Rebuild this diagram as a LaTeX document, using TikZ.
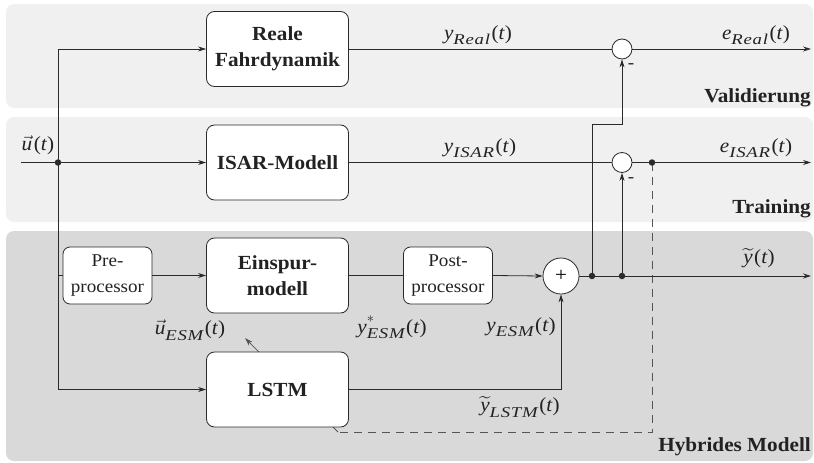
\documentclass[tikz,border=0pt]{standalone}
\usepackage{amsmath}
\usepackage{fontspec}
\setmainfont{Liberation Serif}[FakeStretch=1.06]
\newfontfamily\subfnt{Liberation Serif}[FakeStretch=1.25,LetterSpace=5]
\usetikzlibrary{arrows.meta}
\definecolor{linec}{HTML}{2A2A2A}
\definecolor{txtc}{HTML}{222222}
\definecolor{bandl}{HTML}{F0F0F0}
\definecolor{bandd}{HTML}{D9D9D9}
\definecolor{dashc}{HTML}{555555}
\newcommand{\subx}[1]{\raisebox{-0.27em}{\fontsize{15}{15}\subfnt\itshape #1}}
\newcommand{\tpar}{\kern1.5pt(\textit{t})}
\newcommand{\sigl}[2]{\textit{#1}\subx{#2}\tpar}
\pgfdeclarelayer{bands}
\pgfdeclarelayer{under}
\pgfsetlayers{bands,under,main}
\tikzset{
  blk/.style={draw=linec, fill=white, rounded corners=8pt, minimum width=142pt, minimum height=75pt, align=center, font=\fontsize{20}{26}\selectfont\bfseries, text=txtc, line width=0.8pt, inner sep=0pt},
  ppbox/.style={draw=linec, fill=white, rounded corners=7pt, minimum width=89pt, minimum height=57pt, align=center, font=\fontsize{18}{26}\selectfont, text=txtc, line width=0.8pt, inner sep=0pt},
  sumc/.style={circle, draw=linec, fill=white, minimum size=36pt, inner sep=0pt, line width=0.8pt, font=\fontsize{20}{24}\selectfont},
  cmp/.style={circle, draw=linec, fill=white, minimum size=20pt, inner sep=0pt, line width=0.8pt},
  dotn/.style={circle, fill=linec, minimum size=6.5pt, inner sep=0pt},
  lbl/.style={font=\fontsize{20}{24}\selectfont, inner sep=0pt, text=txtc},
  bandtitle/.style={font=\fontsize{20}{24}\selectfont\bfseries, anchor=base east, inner sep=0pt, text=txtc},
  arr/.style={draw=linec, line width=0.8pt, -{Stealth[length=8pt,width=5pt]}},
  ln/.style={draw=linec, line width=0.8pt},
}
\begin{document}
\begin{tikzpicture}[x=1pt,y=-1pt]
\useasboundingbox (0,0) rectangle (814,463);
% bands
\begin{pgfonlayer}{bands}
  \fill[bandl, rounded corners=8pt] (6,4) rectangle (813,108);
  \fill[bandl, rounded corners=8pt] (6,117) rectangle (813,222);
  \fill[bandd, rounded corners=8pt] (6,231) rectangle (813,461);
\end{pgfonlayer}
\node[bandtitle] (tval) at (811,102) {Validierung};
\node[bandtitle] (ttrn) at (811,213) {Training};
\node[bandtitle] (thyb) at (811,451.5) {Hybrides Modell};
% blocks
\node[blk] (real) at (277.5,49) {Reale\\Fahrdynamik};
\node[blk] (isar) at (277.5,162.5) {ISAR-Modell};
\node[blk] (esm) at (277.5,275.5) {Einspur-\\modell};
\node[blk] (lstm) at (277.5,389.5) {LSTM};
\node[ppbox] (pre) at (107.5,275.5) {Pre-\\processor};
\node[ppbox] (post) at (448,275.5) {Post-\\processor};
\node[sumc] (sum) at (561,276) {+};
\node[cmp] (cR) at (622,49) {};
\node[cmp] (cI) at (622,162.5) {};
% junctions
\node[dotn] (in) at (58,162.5) {};
\node[dotn] (j1) at (592,276) {};
\node[dotn] (j2) at (622,276) {};
\node[dotn] (jd) at (652,162.5) {};
\coordinate (start) at (21,162.5);
\coordinate (outR) at (811,49);
\coordinate (outI) at (811,162.5);
\coordinate (outY) at (811,276);
\coordinate (kink) at (592,124);
\coordinate (lrn0) at (338,432);
\coordinate (lrn1) at (245,338);
% connectors
\draw[arr] (start) -- (isar.west);
\draw[arr] (in.center) |- (real.west);
\draw[arr] (in.center) |- (lstm.west);
\draw[ln] (in.center |- pre.west) -- (pre.west);
\draw[arr] (pre.east) -- (esm.west);
\draw[ln] (esm.east) -- (post.west);
\draw[arr] (post.east) -- (sum.west);
\draw[arr] (lstm.east) -| (sum.south);
\draw[arr] (sum.east) -- (outY);
\draw[ln] (real.east) -- (cR.west);
\draw[arr] (cR.east) -- (outR);
\draw[ln] (isar.east) -- (cI.west);
\draw[arr] (cI.east) -- (outI);
\draw[arr] (j1.center) -- (kink) -| (cR.south);
\draw[arr] (j2.center) -- (cI.south);
\begin{pgfonlayer}{under}
  \draw[dashc, line width=0.8pt, dash pattern=on 8pt off 6pt] (jd.center) |- (lrn0);
  \draw[dashc, line width=0.8pt, -{Stealth[length=8pt,width=5pt]}] (lrn0) -- (lrn1);
\end{pgfonlayer}
% labels
\node[lbl] (lu) at (38,145) {$\vec{\textit{u}}$\tpar};
\node[lbl] (lyr) at (478,35) {\sigl{y}{Real}};
\node[lbl] (ler) at (756,35) {\sigl{e}{Real}};
\node[lbl] (lyi) at (480,148) {\sigl{y}{ISAR}};
\node[lbl] (lei) at (756,148) {\sigl{e}{ISAR}};
\node[lbl] (lyt) at (759,258) {$\widetilde{\textit{y}}$\tpar};
\node[lbl] (lys) at (392,327) {\textit{y}\makebox[0pt][l]{\raisebox{0.55em}{\fontsize{14}{14}\selectfont$*$}}\subx{ESM}\tpar};
\node[lbl] (lye) at (521,327) {\sigl{y}{ESM}};
\node[lbl] (lyl) at (520,407) {$\widetilde{\textit{y}}$\subx{LSTM}\tpar};
\node[lbl] (lue) at (190,330) {$\vec{\textit{u}}$\subx{ESM}\tpar};
\node[lbl, font=\fontsize{18}{20}\selectfont] (m1) at (631,66) {-};
\node[lbl, font=\fontsize{18}{20}\selectfont] (m2) at (631,180) {-};
\end{tikzpicture}
\end{document}
